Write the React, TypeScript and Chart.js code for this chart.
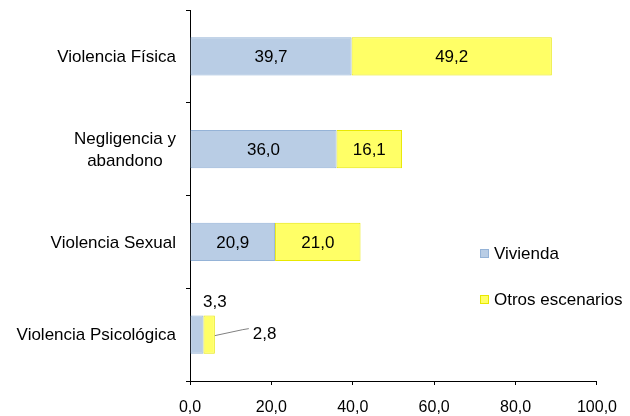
import React, { useEffect, useRef } from "react";
import { Chart, registerables } from "chart.js";

Chart.register(...registerables);

const categories: (string | string[])[] = [
  "Violencia Física",
  ["Negligencia y", "abandono"],
  "Violencia Sexual",
  "Violencia Psicológica",
];
const seriesNames = ["Vivienda", "Otros escenarios"];
const vivienda = [39.7, 36.0, 20.9, 3.3];
const otros = [49.2, 16.1, 21.0, 2.8];
const xMin = 0;
const xMax = 100;
const xStep = 20;

const FONT = "'Liberation Sans', Arial, sans-serif";
const fillColors = ["#B9CDE5", "#FFFF66"];
const borderColors = ["#95B3D7", "#E8E800"];

const fmt = (v: number) => v.toFixed(1).replace(".", ",");

const labelsPlugin = {
  id: "valueLabels",
  afterDatasetsDraw(chart: any) {
    const ctx = chart.ctx;
    ctx.save();
    ctx.font = `17px ${FONT}`;
    ctx.fillStyle = "#000";
    const nds = chart.data.datasets.length;
    chart.data.datasets.forEach((ds: any, i: number) => {
      const meta = chart.getDatasetMeta(i);
      meta.data.forEach((bar: any, j: number) => {
        const p = bar.getProps(["x", "y", "base", "height"], true);
        const w = Math.abs(p.x - p.base);
        const txt = fmt(ds.data[j]);
        if (w > 30) {
          ctx.textAlign = "center";
          ctx.textBaseline = "middle";
          ctx.fillText(txt, (p.x + p.base) / 2, p.y + 1);
        } else if (i === 0) {
          const endBar = chart.getDatasetMeta(nds - 1).data[j];
          ctx.textAlign = "center";
          ctx.textBaseline = "middle";
          ctx.fillText(txt, endBar.x, p.y - p.height / 2 - 13);
        } else {
          const tx = p.x + 38;
          ctx.strokeStyle = "#808080";
          ctx.lineWidth = 1;
          ctx.beginPath();
          ctx.moveTo(p.x, p.y + 1);
          ctx.lineTo(p.x + 28, p.y - 5);
          ctx.lineTo(tx - 4, p.y - 6);
          ctx.stroke();
          ctx.textAlign = "left";
          ctx.textBaseline = "middle";
          ctx.fillText(txt, tx, p.y);
        }
      });
    });
    ctx.restore();
  },
};

const yLabelsPlugin = {
  id: "yLabels",
  afterDraw(chart: any) {
    const ctx = chart.ctx;
    const ys = chart.scales.y;
    const a = chart.chartArea;
    ctx.save();
    // bottom-left axis tick at the last category boundary
    ctx.strokeStyle = "#000";
    ctx.lineWidth = 1;
    ctx.beginPath();
    ctx.moveTo(a.left - 4, Math.round(a.bottom) + 0.5);
    ctx.lineTo(a.left, Math.round(a.bottom) + 0.5);
    ctx.stroke();
    ctx.font = `17px ${FONT}`;
    ctx.fillStyle = "#000";
    ctx.textAlign = "center";
    ctx.textBaseline = "middle";
    const right = ys.right - 14;
    categories.forEach((c, j) => {
      const lines = Array.isArray(c) ? c : [c];
      const maxW = Math.max(...lines.map((l) => ctx.measureText(l).width));
      const yc = ys.getPixelForValue(j);
      const lh = 22;
      lines.forEach((l, k) => {
        ctx.fillText(l, right - maxW / 2, yc + 1 + (k - (lines.length - 1) / 2) * lh);
      });
    });
    ctx.restore();
  },
};

const legendPlugin = {
  id: "insideLegend",
  afterDraw(chart: any) {
    const ctx = chart.ctx;
    const a = chart.chartArea;
    ctx.save();
    ctx.font = `17px ${FONT}`;
    ctx.textAlign = "left";
    ctx.textBaseline = "middle";
    chart.data.datasets.forEach((ds: any, i: number) => {
      const x = a.left + 290;
      const y = a.top + 244 + i * 46;
      ctx.fillStyle = ds.backgroundColor;
      ctx.fillRect(x, y - 5, 9, 9);
      ctx.strokeStyle = ds.borderColor;
      ctx.lineWidth = 1;
      ctx.strokeRect(x + 0.5, y - 4.5, 8, 8);
      ctx.fillStyle = "#000";
      ctx.fillText(ds.label, x + 14, y);
    });
    ctx.restore();
  },
};

export default function App() {
  const ref = useRef<HTMLCanvasElement>(null);
  useEffect(() => {
    const chart = new Chart(ref.current as HTMLCanvasElement, {
      type: "bar",
      data: {
        labels: categories as any,
        datasets: [
          {
            label: seriesNames[0],
            data: vivienda,
            backgroundColor: fillColors[0],
            borderColor: borderColors[0],
            borderWidth: 1,
            borderSkipped: false,
          },
          {
            label: seriesNames[1],
            data: otros,
            backgroundColor: fillColors[1],
            borderColor: borderColors[1],
            borderWidth: 1,
            borderSkipped: false,
          },
        ],
      },
      options: {
        indexAxis: "y",
        animation: false,
        responsive: true,
        maintainAspectRatio: false,
        layout: { padding: { top: 10, right: 33, left: 0, bottom: 0 } },
        datasets: { bar: { barPercentage: 0.41, categoryPercentage: 1 } },
        plugins: { legend: { display: false }, tooltip: { enabled: false } },
        scales: {
          x: {
            stacked: true,
            min: xMin,
            max: xMax,
            ticks: {
              stepSize: xStep,
              color: "#000",
              font: { family: FONT, size: 16 },
              padding: 13,
              callback: (v: any) => fmt(Number(v)),
            },
            grid: { drawOnChartArea: false, drawTicks: true, tickLength: 4, color: "#000" },
            border: { display: true, color: "#000", width: 1 },
            afterFit: (s: any) => {
              s.height = 35;
            },
          },
          y: {
            stacked: true,
            ticks: { display: false },
            grid: { drawOnChartArea: false, drawTicks: true, tickLength: 4, offset: true, color: "#000" },
            border: { display: true, color: "#000", width: 1 },
            afterFit: (s: any) => {
              s.width = 190;
            },
          },
        },
      },
      plugins: [labelsPlugin, yLabelsPlugin, legendPlugin],
    });
    return () => chart.destroy();
  }, []);
  return (
    <div style={{ position: "absolute", left: 0, top: 0, width: 630, height: 416 }}>
      <canvas ref={ref} />
    </div>
  );
}
